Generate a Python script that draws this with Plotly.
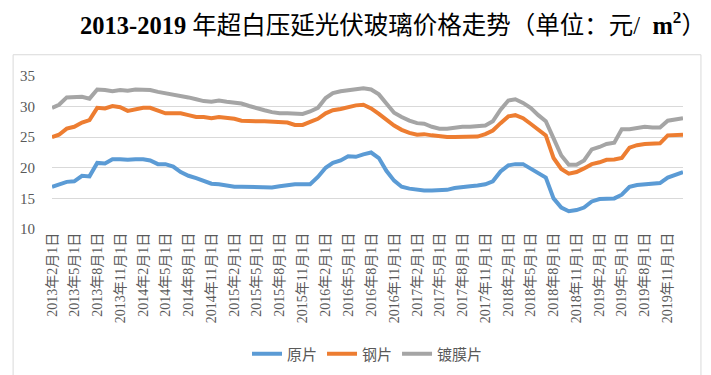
import plotly.graph_objects as go
import pandas as pd

months = pd.date_range("2013-02-01", periods=84, freq="MS")

yuanpian = [16.9, 17.3, 17.7, 17.8, 18.7, 18.6, 20.8, 20.7, 21.4, 21.4, 21.3, 21.4,
            21.4, 21.2, 20.6, 20.6, 20.2, 19.3, 18.7, 18.3, 17.9, 17.4, 17.3, 17.1,
            16.9, 16.9, 16.9, 16.9, 16.8, 16.8, 17.0, 17.2, 17.3, 17.3, 17.3, 18.5,
            20.0, 20.8, 21.2, 21.9, 21.8, 22.2, 22.5, 21.6, 19.5, 17.9, 16.9, 16.6,
            16.4, 16.3, 16.3, 16.3, 16.4, 16.7, 16.9, 17.0, 17.1, 17.3, 17.8, 19.4,
            20.4, 20.6, 20.6, 19.9, 19.0, 18.4, 15.0, 13.5, 12.9, 13.1, 13.5, 14.5,
            14.9, 15.0, 15.0, 15.6, 16.9, 17.2, 17.3, 17.3, 17.5, 18.4, 18.8, 19.3]

gangpian = [25.0, 25.4, 26.4, 26.7, 27.4, 27.8, 29.8, 29.7, 30.1, 29.9, 29.3, 29.6,
            29.8, 29.8, 29.4, 28.9, 28.9, 28.9, 28.6, 28.3, 28.3, 28.1, 28.3, 28.2,
            28.0, 27.7, 27.6, 27.6, 27.6, 27.5, 27.5, 27.4, 27.0, 27.0, 27.5, 28.0,
            28.9, 29.4, 29.6, 29.9, 30.2, 30.3, 29.7, 28.8, 27.8, 26.9, 26.2, 25.7,
            25.4, 25.5, 25.3, 25.1, 25.05, 25.05, 25.05, 25.05, 25.1, 25.5, 26.1, 27.3,
            28.4, 28.6, 28.1, 27.2, 26.2, 25.3, 21.6, 19.8, 19.05, 19.3, 19.9, 20.6,
            20.9, 21.3, 21.35, 21.6, 23.3, 23.7, 23.9, 23.9, 24.0, 25.3, 25.4, 25.4]

dumopian = [29.8, 30.3, 31.5, 31.6, 31.6, 31.3, 32.8, 32.7, 32.5, 32.7, 32.6, 32.8,
            32.8, 32.7, 32.4, 32.2, 31.9, 31.7, 31.5, 31.2, 30.9, 30.8, 31.0, 30.8,
            30.7, 30.5, 30.1, 29.7, 29.4, 29.1, 28.9, 28.9, 28.8, 28.8, 29.2, 29.8,
            31.4, 32.2, 32.5, 32.7, 32.9, 33.0, 32.8, 32.0, 30.5, 29.0, 28.3, 27.7,
            27.3, 27.2, 26.7, 26.4, 26.4, 26.6, 26.7, 26.7, 26.8, 26.9, 27.6, 29.5,
            31.0, 31.2, 30.6, 29.8, 28.6, 27.6, 24.8, 22.0, 20.5, 20.5, 21.2, 23.0,
            23.4, 23.9, 24.1, 26.3, 26.3, 26.5, 26.7, 26.6, 26.6, 27.7, 27.9, 28.1]

series_names = ["原片", "钢片", "镀膜片"]
series_colors = ["#5B9BD5", "#ED7D31", "#A5A5A5"]

tick_dates = pd.date_range("2013-02-01", "2019-11-01", freq="3MS")
tick_labels = [f"{d.year}年{d.month}月1日" for d in tick_dates]
y_ticks = [10, 15, 20, 25, 30, 35]

fig = go.Figure()
for name, vals, col in zip(series_names, [yuanpian, gangpian, dumopian], series_colors):
    fig.add_trace(go.Scatter(x=months, y=vals, mode="lines", name=name,
                             line=dict(color=col, width=4)))

L, R, T, B = 42, 675, 68.3, 221.7
W, H = 711, 375
pw, ph = R - L, B - T

def px(x):
    return (x - L) / pw

def py(y):
    return (B - y) / ph

fig.update_layout(
    width=W, height=H,
    margin=dict(l=L, r=W - R, t=T, b=H - B),
    paper_bgcolor="white", plot_bgcolor="white",
    title=dict(
        text="<b>2013-2019</b> 年超白压延光伏玻璃价格走势（单位：元/  <b>m<sup>2</sup></b>）",
        x=385 / W, xanchor="center", y=1 - 17 / H, yanchor="middle",
        font=dict(family="Liberation Serif, Noto Sans CJK SC", size=24.5, color="#000000"),
    ),
    xaxis=dict(
        type="date", range=[months[0], months[-1]],
        tickvals=list(tick_dates), ticktext=tick_labels, tickangle=-90,
        tickfont=dict(family="Liberation Serif, Noto Sans CJK SC", size=14, color="#595959"),
        showgrid=False, zeroline=False, showline=False, ticks="",
    ),
    yaxis=dict(
        range=[10, 35], tickvals=y_ticks,
        tickfont=dict(family="Liberation Serif", size=15, color="#595959"),
        showgrid=True, gridcolor="#D9D9D9", gridwidth=1, zeroline=False,
        showline=False, ticks="", ticklabelstandoff=16,
    ),
    legend=dict(
        orientation="h", x=0.5, xanchor="center", y=py(347), yanchor="middle",
        font=dict(family="Liberation Serif, Noto Sans CJK SC", size=15, color="#595959"),
        bgcolor="rgba(0,0,0,0)", itemwidth=30,
    ),
    showlegend=True,
)

fig.add_shape(type="rect", xref="paper", yref="paper",
              x0=px(3), x1=px(693), y0=py(372), y1=py(47),
              line=dict(color="#D9D9D9", width=1), fillcolor="rgba(0,0,0,0)", layer="below")

fig.write_html("out.html")
